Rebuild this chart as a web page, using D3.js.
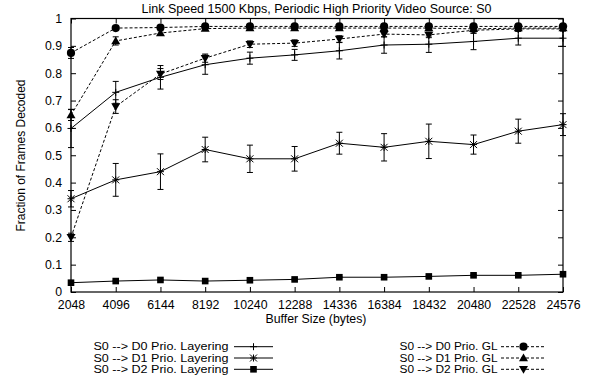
<!DOCTYPE html>
<html><head><meta charset="utf-8">
<script src="https://cdn.jsdelivr.net/npm/d3@7"></script>
<style>body{margin:0;background:#fff}svg{display:block}text{font-family:"Liberation Sans",Arial,sans-serif;fill:#000}</style>
</head><body><svg id="c" width="602" height="385"></svg>
<script>
const bufferSizes = [2048,4096,6144,8192,10240,12288,14336,16384,18432,20480,22528,24576];
const yTicks = [0,0.1,0.2,0.3,0.4,0.5,0.6,0.7,0.8,0.9,1];

const d0Layer    = [0.598,0.730,0.785,0.831,0.855,0.867,0.882,0.903,0.906,0.916,0.928,0.928];
const d0LayerErr = [0.07,0.04,0.043,0.035,0.022,0.02,0.03,0.03,0.03,0.03,0.025,0.03];
const d1Layer    = [0.341,0.410,0.440,0.521,0.487,0.487,0.544,0.529,0.551,0.539,0.588,0.612];
const d1LayerErr = [0.03,0.06,0.065,0.045,0.05,0.045,0.04,0.05,0.063,0.035,0.044,0.04];
const d2Layer    = [0.034,0.040,0.044,0.040,0.043,0.046,0.054,0.054,0.057,0.061,0.061,0.065];
const d2LayerErr = [0.002,0.002,0.002,0.002,0.002,0.002,0.002,0.002,0.002,0.002,0.002,0.002];
const d0GL       = [0.874,0.965,0.967,0.971,0.971,0.971,0.971,0.971,0.971,0.971,0.971,0.971];
const d0GLErr    = [0.02,0.005,0.005,0.005,0.005,0.005,0.005,0.005,0.005,0.005,0.005,0.005];
const d1GL       = [0.647,0.918,0.947,0.963,0.965,0.965,0.965,0.965,0.965,0.962,0.965,0.965];
const d1GLErr    = [0.02,0.015,0.008,0.006,0.005,0.005,0.005,0.005,0.005,0.005,0.005,0.005];
const d2GL       = [0.200,0.678,0.797,0.855,0.906,0.910,0.925,0.943,0.940,0.957,0.962,0.962];
const d2GLErr    = [0.015,0.025,0.02,0.015,0.012,0.012,0.012,0.01,0.01,0.01,0.008,0.008];

const seriesNames = ["S0 --> D0 Prio. Layering","S0 --> D1 Prio. Layering","S0 --> D2 Prio. Layering",
                     "S0 --> D0 Prio. GL","S0 --> D1 Prio. GL","S0 --> D2 Prio. GL"];

const series = [
  {name:seriesNames[0], v:d0Layer, e:d0LayerErr, dash:null, sym:"plus"},
  {name:seriesNames[1], v:d1Layer, e:d1LayerErr, dash:null, sym:"star"},
  {name:seriesNames[2], v:d2Layer, e:d2LayerErr, dash:null, sym:"square"},
  {name:seriesNames[3], v:d0GL, e:d0GLErr, dash:"3,2", sym:"circle"},
  {name:seriesNames[4], v:d1GL, e:d1GLErr, dash:"3,2", sym:"tri"},
  {name:seriesNames[5], v:d2GL, e:d2GLErr, dash:"3,2", sym:"dtri"},
];

const L=71, R=563, T=18.5, B=292;
const svg = d3.select("#c");
const x = d3.scaleLinear().domain([2048,24576]).range([L,R]);
const y = d3.scaleLinear().domain([0,1]).range([B,T]);

// title
svg.append("text").attr("x",316.5).attr("y",13).attr("text-anchor","middle").attr("font-size",12.5)
  .text("Link Speed 1500 Kbps, Periodic High Priority Video Source: S0");

// axes (inward ticks, gnuplot style)
const ax = svg.append("g");
ax.append("g").attr("transform",`translate(0,${B})`)
  .call(d3.axisBottom(x).tickValues(bufferSizes).tickSize(-5).tickPadding(8.5).tickFormat(d3.format("d")));
ax.append("g").attr("transform",`translate(0,${T})`)
  .call(d3.axisTop(x).tickValues(bufferSizes).tickSize(-5).tickFormat(""));
ax.append("g").attr("transform",`translate(${L},0)`)
  .call(d3.axisLeft(y).tickValues(yTicks).tickSize(-5).tickPadding(9).tickFormat(d=>d3.format("")(+d.toFixed(1))));
ax.append("g").attr("transform",`translate(${R},0)`)
  .call(d3.axisRight(y).tickValues(yTicks).tickSize(-5).tickFormat(""));
ax.selectAll(".domain").remove();
ax.selectAll("line").attr("stroke","#000").attr("stroke-width",1);
ax.selectAll("text").attr("font-size",12.3).attr("font-family","Liberation Sans, Arial, sans-serif");
svg.append("rect").attr("x",L).attr("y",T).attr("width",R-L).attr("height",B-T)
  .attr("fill","none").attr("stroke","#000").attr("stroke-width",1.2);

// axis labels
svg.append("text").attr("x",316).attr("y",323).attr("text-anchor","middle").attr("font-size",12.3).text("Buffer Size (bytes)");
svg.append("text").attr("transform","translate(24.5,155.5) rotate(-90)").attr("text-anchor","middle").attr("font-size",12).text("Fraction of Frames Decoded");

function drawSym(g, sym, cx, cy){
  const s=3.5;
  if(sym==="plus"){
    g.append("path").attr("d",`M${cx-s},${cy}H${cx+s}M${cx},${cy-s}V${cy+s}`).attr("stroke","#000").attr("stroke-width",1).attr("fill","none");
  } else if(sym==="star"){
    g.append("path").attr("d",`M${cx-s},${cy}H${cx+s}M${cx},${cy-s}V${cy+s}M${cx-s},${cy-s}L${cx+s},${cy+s}M${cx-s},${cy+s}L${cx+s},${cy-s}`).attr("stroke","#000").attr("stroke-width",1).attr("fill","none");
  } else if(sym==="square"){
    g.append("rect").attr("x",cx-3.3).attr("y",cy-3.3).attr("width",6.6).attr("height",6.6).attr("fill","#000");
  } else if(sym==="circle"){
    g.append("circle").attr("cx",cx).attr("cy",cy).attr("r",4.1).attr("fill","#000");
  } else if(sym==="tri"){
    g.append("path").attr("d",`M${cx},${cy-4.5}L${cx+4.5},${cy+3.2}L${cx-4.5},${cy+3.2}Z`).attr("fill","#000");
  } else if(sym==="dtri"){
    g.append("path").attr("d",`M${cx},${cy+4.5}L${cx+4.5},${cy-3.2}L${cx-4.5},${cy-3.2}Z`).attr("fill","#000");
  }
}

const plot = svg.append("g");
const line = d3.line().x((d,i)=>x(bufferSizes[i])).y(d=>y(d));
series.forEach(s=>{
  const g = plot.append("g");
  s.v.forEach((v,i)=>{
    const cx=x(bufferSizes[i]), y1=y(Math.min(1,v+s.e[i])), y2=y(v-s.e[i]);
    g.append("path").attr("d",`M${cx},${y1}V${y2}M${cx-3},${y1}H${cx+3}M${cx-3},${y2}H${cx+3}`)
      .attr("stroke","#000").attr("stroke-width",1).attr("fill","none");
  });
  g.append("path").datum(s.v).attr("d",line).attr("fill","none").attr("stroke","#000")
    .attr("stroke-width",1).attr("stroke-dasharray",s.dash);
  s.v.forEach((v,i)=>drawSym(g,s.sym,x(bufferSizes[i]),y(v)));
});

// legend
const lg = svg.append("g");
const rowsY=[346.7,358,369.3];
series.forEach((s,k)=>{
  const col = k<3?0:1, r=k%3, ry=rowsY[r];
  if(col===0){
    lg.append("text").attr("x",93.5).attr("y",ry+3.6).attr("font-size",10)
      .attr("textLength",135).attr("lengthAdjust","spacingAndGlyphs").text(s.name);
    lg.append("line").attr("x1",234).attr("x2",273).attr("y1",ry).attr("y2",ry).attr("stroke","#000");
    drawSym(lg,s.sym,253.5,ry);
  } else {
    lg.append("text").attr("x",399.5).attr("y",ry+3.6).attr("font-size",10)
      .attr("textLength",98).attr("lengthAdjust","spacingAndGlyphs").text(s.name);
    lg.append("line").attr("x1",501).attr("x2",546).attr("y1",ry).attr("y2",ry).attr("stroke","#000").attr("stroke-dasharray","3,2");
    drawSym(lg,s.sym,523.5,ry);
  }
});
</script></body></html>
